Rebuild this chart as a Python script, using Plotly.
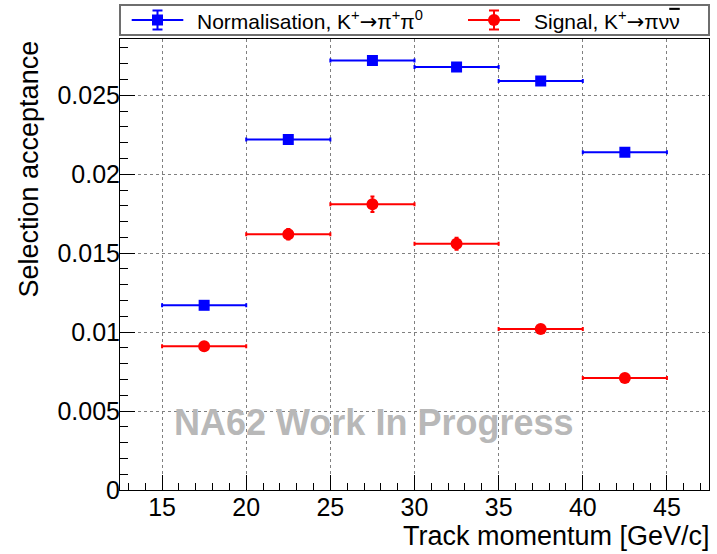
import plotly.graph_objects as go

# Track momentum bins [GeV/c]
bin_centres = [17.5, 22.5, 27.5, 32.5, 37.5, 42.5]
bin_half_widths = [2.5, 2.5, 2.5, 2.5, 2.5, 2.5]

# Selection acceptance, normalisation channel K+ -> pi+ pi0
norm_acc = [0.0117, 0.0222, 0.0272, 0.0268, 0.0259, 0.0214]
norm_err = [0.0001, 0.00015, 0.00015, 0.00015, 0.00015, 0.00015]

# Selection acceptance, signal channel K+ -> pi nu nubar
sig_acc = [0.0091, 0.0162, 0.0181, 0.0156, 0.0102, 0.0071]
sig_err = [0.0002, 0.00034, 0.00049, 0.00038, 0.0002, 0.00015]

y_tickvals = [0, 0.005, 0.01, 0.015, 0.02, 0.025]
y_ticktext = ["0", "0.005", "0.01", "0.015", "0.02", "0.025"]
x_tickvals = [15, 20, 25, 30, 35, 40, 45]
x_ticktext = ["15", "20", "25", "30", "35", "40", "45"]

ARROW = "<span style='font-family:DejaVu Sans'>→</span>"
NUBAR = "<span style='text-decoration:overline'>ν</span>"
norm_label = f"Normalisation, K<sup>+</sup>{ARROW}π<sup>+</sup>π<sup>0</sup>"
sig_label = f"Signal, K<sup>+</sup>{ARROW}πν{NUBAR}"

BLUE = "#0000ff"
RED = "#ff0000"
FONT = "Liberation Sans"

W, H = 717, 554
ML, MR, MT, MB = 120, 8, 5, 64
plot_w = W - ML - MR
plot_h = H - MT - MB
frame_top_px = 38.5
legend_top_px, legend_bot_px = 5, 35


def py(px_from_top):
    """paper y coordinate for a pixel row"""
    return (H - MB - px_from_top) / plot_h


def px_x(px_from_left):
    return (px_from_left - ML) / plot_w


fig = go.Figure()


def add_series(y, err, colour, symbol, size):
    fig.add_trace(go.Scatter(
        x=bin_centres, y=y, mode="markers",
        marker=dict(color=colour, symbol=symbol, size=size, line=dict(width=0)),
        error_x=dict(type="data", array=bin_half_widths, color=colour,
                     thickness=2, width=2),
        error_y=dict(type="data", array=err, color=colour,
                     thickness=2, width=2),
        xaxis="x", yaxis="y", showlegend=False,
    ))


add_series(norm_acc, norm_err, BLUE, "square", 11)
add_series(sig_acc, sig_err, RED, "circle", 12)

# Legend box drawn on its own small axis pair above the frame
legend_entries = [
    (BLUE, "square", 11, 11.7, 63.3, 75, norm_label),
    (RED, "circle", 12, 348, 400, 412, sig_label),
]
for colour, symbol, size, x0, x1, tx, label in legend_entries:
    fig.add_trace(go.Scatter(
        x=[x0, x1], y=[15, 15], mode="lines",
        line=dict(color=colour, width=2),
        xaxis="x2", yaxis="y2", showlegend=False, hoverinfo="skip",
    ))
    fig.add_trace(go.Scatter(
        x=[(x0 + x1) / 2], y=[15], mode="markers",
        marker=dict(color=colour, symbol=symbol, size=size, line=dict(width=0)),
        error_y=dict(type="constant", value=9.5, color=colour,
                     thickness=2, width=5),
        xaxis="x2", yaxis="y2", showlegend=False, hoverinfo="skip",
    ))
    fig.add_annotation(
        x=tx, y=15, xref="x2", yref="y2", text=label, showarrow=False,
        xanchor="left", yanchor="middle",
        font=dict(family=FONT, size=21, color="black"),
    )

fig.add_shape(
    type="rect", xref="paper", yref="paper",
    x0=0, x1=1.0, y0=py(legend_bot_px), y1=py(legend_top_px),
    line=dict(color="#6e6e6e", width=2), fillcolor="rgba(0,0,0,0)",
)

# Watermark
fig.add_annotation(
    x=px_x(373.5), y=py(422), xref="paper", yref="paper",
    text="<b>NA62 Work In Progress</b>", showarrow=False,
    xanchor="center", yanchor="middle",
    font=dict(family=FONT, size=36, color="#b8b8b8"),
)

# Axis titles, aligned to the far ends of the axes
fig.add_annotation(
    x=px_x(28.5), y=py(169), xref="paper", yref="paper",
    text="Selection acceptance", showarrow=False, textangle=-90,
    xanchor="center", yanchor="middle",
    font=dict(family=FONT, size=27, color="black"),
)
fig.add_annotation(
    x=px_x(712), y=py(536), xref="paper", yref="paper",
    text="Track momentum [GeV/c]", showarrow=False,
    xanchor="right", yanchor="middle",
    font=dict(family=FONT, size=27, color="black"),
)

axis_common = dict(
    showline=True, linecolor="black", linewidth=1, mirror=True,
    ticks="inside", ticklen=15, tickwidth=1, tickcolor="black",
    showgrid=True, gridcolor="#808080", griddash="dot", gridwidth=1,
    zeroline=False, tickfont=dict(family=FONT, size=25, color="black"),
)

fig.update_layout(
    width=W, height=H,
    margin=dict(l=ML, r=MR, t=MT, b=MB, pad=0),
    paper_bgcolor="white", plot_bgcolor="white",
    xaxis=dict(
        domain=[0, 1], range=[12.5, 47.5], anchor="y",
        tickmode="array", tickvals=x_tickvals, ticktext=x_ticktext,
        ticklabelstandoff=-5,
        minor=dict(dtick=1, tick0=0, ticks="inside", ticklen=7.5,
                   tickcolor="black", tickwidth=1, showgrid=False),
        **axis_common,
    ),
    yaxis=dict(
        domain=[0, py(frame_top_px)], range=[0, 0.0286], anchor="x",
        tickmode="array", tickvals=y_tickvals, ticktext=y_ticktext,
        ticklabelstandoff=-6,
        minor=dict(dtick=0.001, tick0=0, ticks="inside", ticklen=7.5,
                   tickcolor="black", tickwidth=1, showgrid=False),
        **axis_common,
    ),
    xaxis2=dict(domain=[0, 1], range=[0, plot_w], anchor="y2", visible=False,
                fixedrange=True),
    yaxis2=dict(domain=[py(legend_bot_px), 1], range=[0, 30], anchor="x2",
                visible=False, fixedrange=True),
    showlegend=False,
)

fig.write_html("out.html")
